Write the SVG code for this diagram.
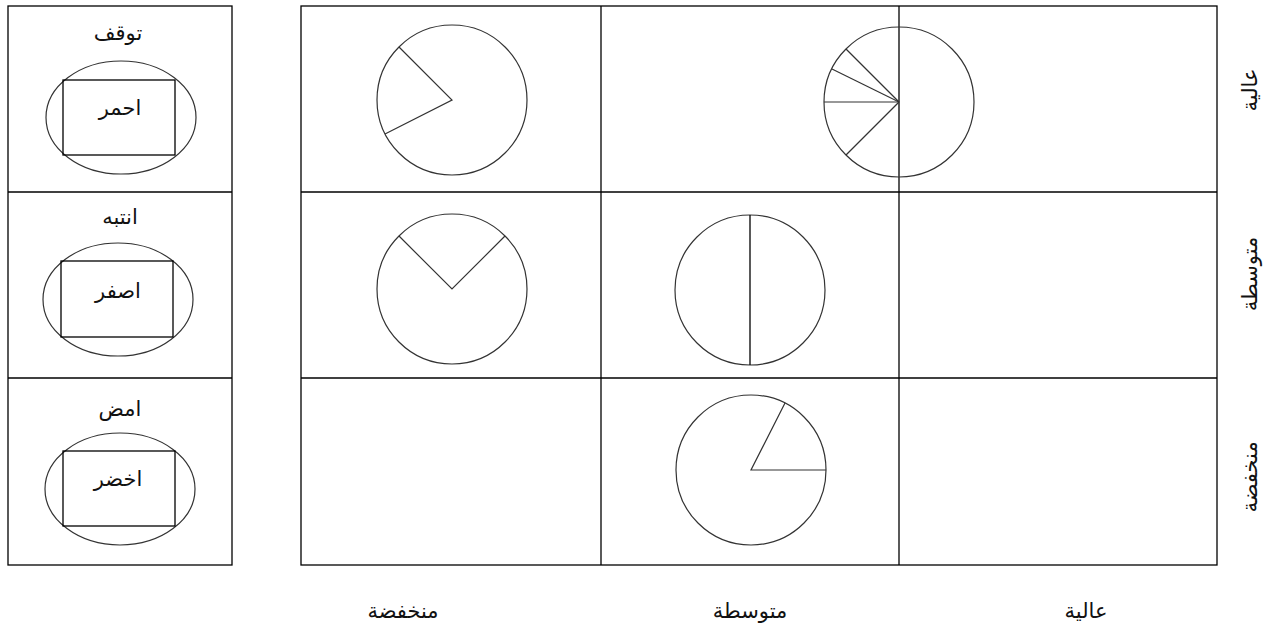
<svg xmlns="http://www.w3.org/2000/svg" width="1280" height="633" viewBox="0 0 1280 633">
<style>
.ln{fill:none;stroke:#000;stroke-width:1.3}
.sh{fill:none;stroke:#333;stroke-width:1.2}
.t{font-family:"DejaVu Sans",sans-serif;font-size:21px;fill:#111;text-anchor:middle}
</style>
<rect width="1280" height="633" fill="#fff"/>
<g id="legend">
  <rect class="ln" x="8" y="6" width="224" height="559"/>
  <line class="ln" x1="8" y1="192" x2="232" y2="192"/>
  <line class="ln" x1="8" y1="378" x2="232" y2="378"/>
</g>
<g id="stop">
  <text class="t" x="118" y="40" direction="rtl">توقف</text>
  <ellipse class="sh" cx="121" cy="117.5" rx="75" ry="56.5"/>
  <rect class="ln" x="63" y="80" width="112" height="75"/>
  <text class="t" x="120" y="115" direction="rtl">احمر</text>
</g>
<g id="attention">
  <text class="t" x="120" y="224" direction="rtl">انتبه</text>
  <ellipse class="sh" cx="118" cy="299.5" rx="75" ry="56.5"/>
  <rect class="ln" x="61" y="261" width="112" height="76"/>
  <text class="t" x="118" y="298" direction="rtl">اصفر</text>
</g>
<g id="go">
  <text class="t" x="120" y="416" direction="rtl">امض</text>
  <ellipse class="sh" cx="120" cy="489" rx="75" ry="56"/>
  <rect class="ln" x="63" y="451" width="112" height="75"/>
  <text class="t" x="118" y="486" direction="rtl">اخضر</text>
</g>
<g id="grid">
  <rect class="ln" x="301" y="6" width="916" height="559"/>
  <line class="ln" x1="601" y1="6" x2="601" y2="565"/>
  <line class="ln" x1="899" y1="6" x2="899" y2="565"/>
  <line class="ln" x1="301" y1="192" x2="1217" y2="192"/>
  <line class="ln" x1="301" y1="378" x2="1217" y2="378"/>
</g>
<g id="pie-high-low">
  <circle class="sh" cx="452" cy="100" r="75"/>
  <polyline class="sh" points="399,47 452,100 385,134"/>
</g>
<g id="pie-high-high">
  <circle class="sh" cx="899" cy="102" r="75"/>
  <line class="sh" x1="899" y1="102" x2="846" y2="49"/>
  <line class="sh" x1="899" y1="102" x2="832" y2="69"/>
  <line class="sh" x1="899" y1="102" x2="824" y2="102"/>
  <line class="sh" x1="899" y1="102" x2="846" y2="155"/>
</g>
<g id="pie-mid-low">
  <circle class="sh" cx="452" cy="289" r="75"/>
  <polyline class="sh" points="399,236 452,289 505,236"/>
</g>
<g id="pie-mid-mid">
  <circle class="sh" cx="750" cy="290" r="75"/>
  <line class="ln" x1="750" y1="215" x2="750" y2="365"/>
</g>
<g id="pie-low-mid">
  <circle class="sh" cx="751" cy="470" r="75"/>
  <polyline class="sh" points="785,403 751,470 826,470"/>
</g>
<g id="axis-labels">
  <text class="t" transform="translate(1250,90) rotate(-90)" x="0" y="7" direction="rtl">عالية</text>
  <text class="t" transform="translate(1250,274) rotate(-90)" x="0" y="7" direction="rtl">متوسطة</text>
  <text class="t" transform="translate(1250,477) rotate(-90)" x="0" y="7" direction="rtl">منخفضة</text>
  <text class="t" x="403" y="618" direction="rtl">منخفضة</text>
  <text class="t" x="750" y="618" direction="rtl">متوسطة</text>
  <text class="t" x="1086" y="618" direction="rtl">عالية</text>
</g>
</svg>
